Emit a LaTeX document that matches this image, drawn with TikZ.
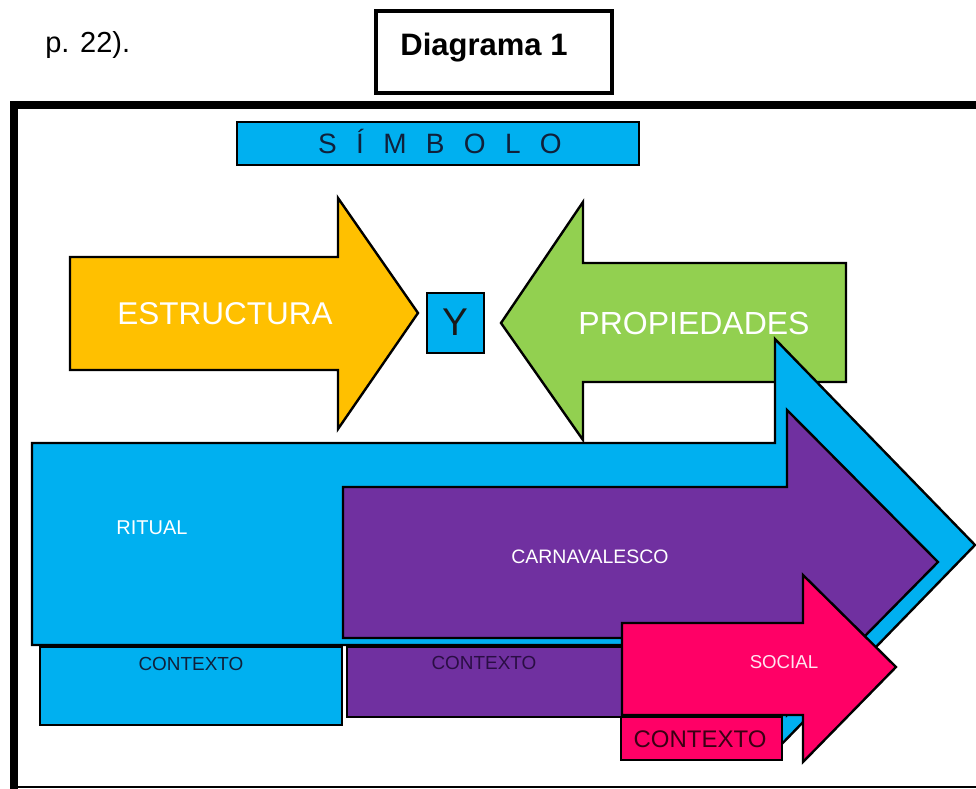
\documentclass[tikz,border=0pt]{standalone}
\usepackage{fontspec}
\setmainfont{Liberation Sans}

\definecolor{cyanfill}{HTML}{00B0F0}
\definecolor{goldfill}{HTML}{FFC000}
\definecolor{limefill}{HTML}{92D050}
\definecolor{plumfill}{HTML}{7030A0}
\definecolor{rosefill}{HTML}{FF0066}
\definecolor{navyink}{HTML}{10203A}
\definecolor{plumink}{HTML}{2A0E44}
\definecolor{roseink}{HTML}{3A0014}

\newcommand\fs[1]{\fontsize{#1}{#1}\selectfont}
\newcommand\lsp{\kern14.5pt}

\begin{document}
\begin{tikzpicture}[x=0.75pt,y=-0.75pt,
  outlined/.style={draw=black, line width=1.8pt, line join=miter},
  lbl/.style={inner sep=0pt, anchor=base},
  lightlbl/.style={lbl, text=white}]
\useasboundingbox (0,0) rectangle (976,789);

\begin{scope}
\clip (0,0) rectangle (976,789);

% heading above the frame
\node[lbl, anchor=base west, font=\fs{21.75pt}] (pref) at (45,52) {p. 22).};
\draw[line width=3pt] (376,11) rectangle (612,93);
\node[lbl, font=\fs{23.25pt}\bfseries] (title) at (484,55) {Diagrama 1};

% outer frame
\draw[line width=6pt] (14,790) -- (14,105) -- (985,105);
\draw[line width=1.5pt] (14,787) -- (985,787);

% symbol banner
\draw[outlined, fill=cyanfill] (237,122) rectangle (639,165);
\node[lbl, text=navyink, font=\fs{21pt}] (simbolo) at (440,153)
  {S\lsp Í\lsp M\lsp B\lsp O\lsp L\lsp O};

% structure arrow (right)
\draw[outlined, fill=goldfill]
  (70,257) -- (338,257) -- (338,198) -- (418,313) -- (338,429) -- (338,370) -- (70,370) -- cycle;
\node[lightlbl, font=\fs{23.6pt}] (estructura) at (225,324) {ESTRUCTURA};

% conjunction box
\draw[outlined, fill=cyanfill] (427,293) rectangle (484,353);
\node[lbl, text=black!90, font=\fs{29pt}] (y) at (455.5,335) {Y};

% properties arrow (left)
\draw[outlined, fill=limefill]
  (846,263) -- (583,263) -- (583,202) -- (501,323) -- (583,440) -- (583,382) -- (846,382) -- cycle;
\node[lightlbl, font=\fs{24pt}] (propiedades) at (694,334) {PROPIEDADES};

% ritual arrow
\draw[outlined, fill=cyanfill]
  (32,443) -- (775,443) -- (775,339) -- (975,545) -- (775,751) -- (775,645) -- (32,645) -- cycle;
\node[lightlbl, font=\fs{15pt}] (ritual) at (152,534) {RITUAL};

% carnival arrow
\draw[outlined, fill=plumfill]
  (343,487) -- (787,487) -- (787,410) -- (938,562) -- (787,715) -- (787,638) -- (343,638) -- cycle;
\node[lightlbl, font=\fs{14.6pt}] (carnavalesco) at (590,563) {CARNAVALESCO};

% context boxes
\draw[outlined, fill=cyanfill] (40,647) rectangle (342,725);
\node[lbl, text=navyink, font=\fs{14.2pt}] (ctxa) at (191,670) {CONTEXTO};
\draw[outlined, fill=plumfill] (347,647) rectangle (700,717);
\node[lbl, text=plumink, font=\fs{14.2pt}] (ctxb) at (484,669) {CONTEXTO};

% social arrow
\draw[outlined, fill=rosefill]
  (622,623) -- (803,623) -- (803,575) -- (896,667) -- (803,762) -- (803,715) -- (622,715) -- cycle;
\node[lbl, text=white!90!rosefill, font=\fs{14pt}] (social) at (784,668) {SOCIAL};

\draw[outlined, fill=rosefill] (621,717) rectangle (782,760);
\node[lbl, text=roseink, font=\fs{18pt}] (ctxc) at (700,747) {CONTEXTO};
\end{scope}
\end{tikzpicture}
\end{document}
